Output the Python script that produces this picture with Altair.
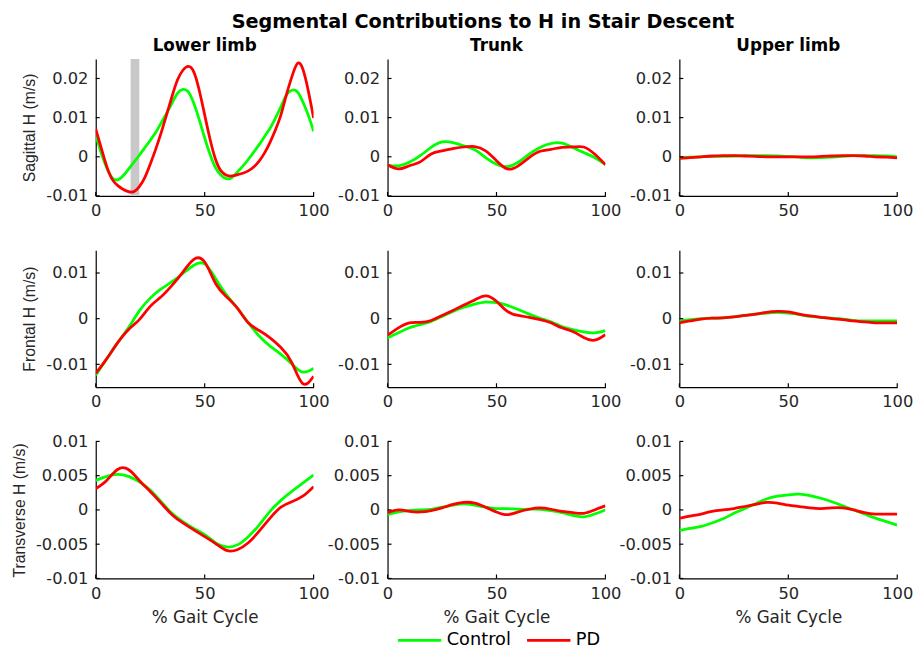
import altair as alt
import pandas as pd

# ---------------- data ----------------
X5 = [0, 5, 10, 15, 20, 25, 30, 35, 40, 45, 50, 55, 60, 65, 70, 75, 80, 85, 90, 95, 100]
X25 = [0, 2.5, 5, 7.5, 10, 12.5, 15, 17.5, 20, 22.5, 25, 27.5, 30, 32.5, 35, 37.5, 40,
       42.5, 45, 47.5, 50, 52.5, 55, 57.5, 60, 62.5, 65, 67.5, 70, 72.5, 75, 77.5, 80,
       82.5, 85, 87.5, 90, 92.5, 95, 97.5, 100]

GROUPS = ["Control", "PD"]
COLORS = ["#00ff00", "#ff0000"]
COL_TITLES = ["Lower limb", "Trunk", "Upper limb"]
ROW_TITLES = ["Sagittal H (m/s)", "Frontal H (m/s)", "Transverse H (m/s)"]
MAIN_TITLE = "Segmental Contributions to H in Stair Descent"
X_TITLE = "% Gait Cycle"
X_TICKS = [0, 50, 100]
BAND = [16, 20]

# Sagittal
LL_SAG_CTRL = [0.0057, 0.0010, -0.0028, -0.0053, -0.0059, -0.0049, -0.0032, -0.0014, 0.0004,
               0.0023, 0.0042, 0.0062, 0.0086, 0.0111, 0.0137, 0.0162, 0.0172, 0.0166, 0.0137,
               0.0095, 0.0048, 0.0006, -0.0028, -0.0047, -0.0056, -0.0053, -0.0039, -0.0024,
               -0.0007, 0.0012, 0.0031, 0.0052, 0.0073, 0.0099, 0.0128, 0.0158, 0.0170, 0.0166,
               0.0141, 0.0107, 0.0065]
LL_SAG_PD = [0.0071, 0.0023, -0.0024, -0.0057, -0.0073, -0.0083, -0.0089, -0.0089, -0.0076,
             -0.0053, -0.0019, 0.0019, 0.0061, 0.0107, 0.0154, 0.0196, 0.0221, 0.0231, 0.0217,
             0.0170, 0.0107, 0.0044, -0.0007, -0.0036, -0.0047, -0.0049, -0.0046, -0.0042,
             -0.0036, -0.0026, -0.0011, 0.0010, 0.0037, 0.0069, 0.0107, 0.0158, 0.0204, 0.0238,
             0.0225, 0.0170, 0.0099]
TR_SAG_CTRL = [-0.0021, -0.0023, -0.0014, 0.0003, 0.0024, 0.0038, 0.0036, 0.0028, 0.0018, -0.0002,
               -0.0019, -0.0025, -0.0014, 0.0007, 0.0024, 0.0034, 0.0035, 0.0024, 0.0011, -0.0002,
               -0.0020]
TR_SAG_PD = [-0.0020, -0.0031, -0.0023, -0.0013, 0.0007, 0.0015, 0.0021, 0.0025, 0.0026, 0.0015,
             -0.0010, -0.0031, -0.0023, -0.0002, 0.0014, 0.0019, 0.0024, 0.0025, 0.0025, 0.0007,
             -0.0020]
UL_SAG_CTRL = [-0.0002, -0.0001, 0.0000, 0.0001, 0.0001, 0.0002, 0.0003, 0.0003, 0.0003, 0.0002,
               0.0001, -0.0001, -0.0003, -0.0002, -0.0001, 0.0001, 0.0003, 0.0003, 0.0003, 0.0002,
               0.0000]
UL_SAG_PD = [-0.0004, -0.0002, 0.0000, 0.0002, 0.0003, 0.0003, 0.0002, 0.0001, 0.0000, 0.0000,
             0.0000, 0.0000, 0.0000, 0.0001, 0.0002, 0.0003, 0.0003, 0.0002, 0.0000, -0.0001,
             -0.0003]

# Frontal
LL_FRO_CTRL = [-0.0124, -0.0088, -0.0053, -0.0020, 0.0017, 0.0045, 0.0065, 0.0081, 0.0099, 0.0117,
               0.0120, 0.0088, 0.0052, 0.0023, -0.0009, -0.0038, -0.0060, -0.0078, -0.0099, -0.0117,
               -0.0109]
LL_FRO_PD = [-0.0120, -0.0088, -0.0053, -0.0024, -0.0002, 0.0027, 0.0048, 0.0073, 0.0102, 0.0130,
             0.0124, 0.0077, 0.0048, 0.0023, -0.0009, -0.0026, -0.0042, -0.0063, -0.0096, -0.0142,
             -0.0126]
TR_FRO_CTRL = [-0.0042, -0.0031, -0.0020, -0.0013, -0.0006, 0.0005, 0.0016, 0.0025, 0.0032, 0.0036,
               0.0035, 0.0029, 0.0020, 0.0010, 0.0001, -0.0007, -0.0017, -0.0024, -0.0029, -0.0031,
               -0.0026]
TR_FRO_PD = [-0.0036, -0.0020, -0.0009, -0.0008, -0.0004, 0.0007, 0.0018, 0.0030, 0.0041, 0.0050,
             0.0038, 0.0016, 0.0007, 0.0003, -0.0002, -0.0009, -0.0020, -0.0028, -0.0041, -0.0047,
             -0.0035]
UL_FRO_CTRL = [-0.0005, -0.0002, 0.0000, 0.0001, 0.0002, 0.0004, 0.0007, 0.0010, 0.0012, 0.0014,
               0.0012, 0.0009, 0.0005, 0.0003, 0.0001, -0.0001, -0.0004, -0.0005, -0.0005, -0.0005,
               -0.0005]
UL_FRO_PD = [-0.0009, -0.0005, -0.0001, 0.0001, 0.0002, 0.0004, 0.0007, 0.0010, 0.0014, 0.0016,
             0.0015, 0.0010, 0.0006, 0.0003, 0.0000, -0.0002, -0.0005, -0.0007, -0.0009, -0.0009,
             -0.0009]

# Transverse
LL_TRA_CTRL = [0.0043, 0.0049, 0.0052, 0.0049, 0.0041, 0.0029, 0.0012, -0.0005, -0.0017, -0.0027,
               -0.0036, -0.0048, -0.0054, -0.0051, -0.0039, -0.0022, -0.0002, 0.0014, 0.0027, 0.0039,
               0.0051]
LL_TRA_PD = [0.0031, 0.0043, 0.0059, 0.0059, 0.0043, 0.0027, 0.0010, -0.0007, -0.0019, -0.0029,
             -0.0039, -0.0049, -0.0059, -0.0058, -0.0048, -0.0031, -0.0012, 0.0004, 0.0012, 0.0020,
             0.0034]
TR_TRA_CTRL = [-0.0007, -0.0003, -0.0001, 0.0000, 0.0001, 0.0004, 0.0007, 0.0009, 0.0007, 0.0004,
               0.0002, 0.0002, 0.0001, 0.0001, 0.0001, -0.0001, -0.0004, -0.0008, -0.0010, -0.0006,
               0.0000]
TR_TRA_PD = [-0.0004, 0.0000, -0.0002, -0.0003, -0.0001, 0.0003, 0.0008, 0.0011, 0.0010, 0.0004,
             -0.0003, -0.0007, -0.0003, 0.0001, 0.0003, 0.0001, -0.0002, -0.0004, -0.0005, 0.0000,
             0.0006]
UL_TRA_CTRL = [-0.0030, -0.0027, -0.0024, -0.0019, -0.0013, -0.0005, 0.0002, 0.0009, 0.0016, 0.0020,
               0.0022, 0.0023, 0.0021, 0.0017, 0.0012, 0.0006, 0.0000, -0.0006, -0.0012, -0.0017,
               -0.0022]
UL_TRA_PD = [-0.0012, -0.0009, -0.0006, -0.0002, 0.0000, 0.0002, 0.0005, 0.0008, 0.0011, 0.0010,
             0.0007, 0.0005, 0.0003, 0.0002, 0.0003, 0.0003, 0.0000, -0.0004, -0.0006, -0.0006,
             -0.0006]

Y_DOMAINS = [[-0.01, 0.025], [-0.015, 0.015], [-0.01, 0.01]]
Y_TICKS = [[-0.01, 0, 0.01, 0.02], [-0.01, 0, 0.01], [-0.01, -0.005, 0, 0.005, 0.01]]

PANELS = [
    [(X25, LL_SAG_CTRL, LL_SAG_PD), (X5, TR_SAG_CTRL, TR_SAG_PD), (X5, UL_SAG_CTRL, UL_SAG_PD)],
    [(X5, LL_FRO_CTRL, LL_FRO_PD), (X5, TR_FRO_CTRL, TR_FRO_PD), (X5, UL_FRO_CTRL, UL_FRO_PD)],
    [(X5, LL_TRA_CTRL, LL_TRA_PD), (X5, TR_TRA_CTRL, TR_TRA_PD), (X5, UL_TRA_CTRL, UL_TRA_PD)],
]

W, H = 221, 139
TICK_LEN = 4
LABEL_EXPR = "datum.value < 0 ? '-' + format(-datum.value, '~g') : format(datum.value, '~g')"


def make_panel(r, c):
    xs, ctrl, pdv = PANELS[r][c]
    rows = []
    for g, vals in zip(GROUPS, [ctrl, pdv]):
        for x, v in zip(xs, vals):
            rows.append({"pct": x, "H": v, "group": g})
    df = pd.DataFrame(rows)

    x_axis = alt.Axis(values=X_TICKS, title=X_TITLE if r == 2 else "", labelFlush=False,
                      titleFont="DejaVu Sans", titleFontSize=17, titleFontWeight="normal",
                      titlePadding=8, labelPadding=7)
    y_axis = alt.Axis(values=Y_TICKS[r], labelExpr=LABEL_EXPR, labelFlush=False,
                      title=ROW_TITLES[r] if c == 0 else "",
                      titleFont="Liberation Sans", titleFontSize=16, titleFontWeight="normal",
                      titlePadding=8, labelPadding=8)
    x_scale = alt.Scale(domain=[0, 100], nice=False)
    y_scale = alt.Scale(domain=Y_DOMAINS[r], nice=False, zero=False)

    lines = alt.Chart(df).mark_line(strokeWidth=2.8, interpolate="natural", clip=True).encode(
        x=alt.X("pct:Q", scale=x_scale, axis=x_axis),
        y=alt.Y("H:Q", scale=y_scale, axis=y_axis),
        color=alt.Color("group:N",
                        scale=alt.Scale(domain=GROUPS, range=COLORS),
                        legend=alt.Legend(orient="none", legendX=305, legendY=566,
                                          direction="horizontal", title=None,
                                          symbolType="stroke", symbolSize=1936,
                                          symbolStrokeWidth=2.8, labelFontSize=18,
                                          labelFont="DejaVu Sans", labelColor="#000000",
                                          labelOffset=4, columnPadding=9)),
        detail="group:N",
    )

    # inward tick marks (MATLAB style)
    ytick_df = pd.DataFrame({"t": Y_TICKS[r]})
    yticks = alt.Chart(ytick_df).mark_rule(color="#000000", strokeWidth=1.2).encode(
        y=alt.Y("t:Q", scale=y_scale, axis=y_axis), x=alt.value(0), x2=alt.value(TICK_LEN),
    )
    xtick_df = pd.DataFrame({"t": X_TICKS})
    xticks = alt.Chart(xtick_df).mark_rule(color="#000000", strokeWidth=1.2).encode(
        x=alt.X("t:Q", scale=x_scale, axis=x_axis), y=alt.value(H), y2=alt.value(H - TICK_LEN),
    )

    layers = [lines, yticks, xticks]
    if r == 0 and c == 0:
        band_df = pd.DataFrame({"x0": [BAND[0]], "x1": [BAND[1]]})
        band = alt.Chart(band_df).mark_rect(color="#c8c8c8").encode(
            x=alt.X("x0:Q", scale=x_scale, axis=x_axis), x2="x1:Q",
            y=alt.value(0), y2=alt.value(H),
        )
        layers = [band, lines, yticks, xticks]
    ch = alt.layer(*layers).properties(width=W, height=H)
    if r == 0:
        ch = ch.properties(title=alt.TitleParams(COL_TITLES[c], fontSize=17, fontWeight="bold",
                                                 font="DejaVu Sans", offset=4, color="#000000"))
    return ch


charts = [make_panel(r, c) for r in range(3) for c in range(3)]

chart = alt.concat(*charts, columns=3, spacing={"row": 55, "column": 75}, bounds="flush").resolve_scale(
    x="independent", y="independent", color="shared"
).properties(
    title=alt.TitleParams(MAIN_TITLE, fontSize=19.5, fontWeight="bold", font="DejaVu Sans",
                          color="#000000", anchor="middle", offset=4, dx=21),
    padding={"left": 3, "top": 0, "right": 0, "bottom": 0},
    background="white",
).configure_axis(
    grid=False, ticks=False, domainColor="#000000", domainWidth=1.2,
    labelFont="DejaVu Sans", labelFontSize=16.5, labelColor="#262626",
    titleColor="#262626",
).configure_view(stroke="transparent")

chart.save("out.html", embed_options={"renderer": "svg", "actions": False})
